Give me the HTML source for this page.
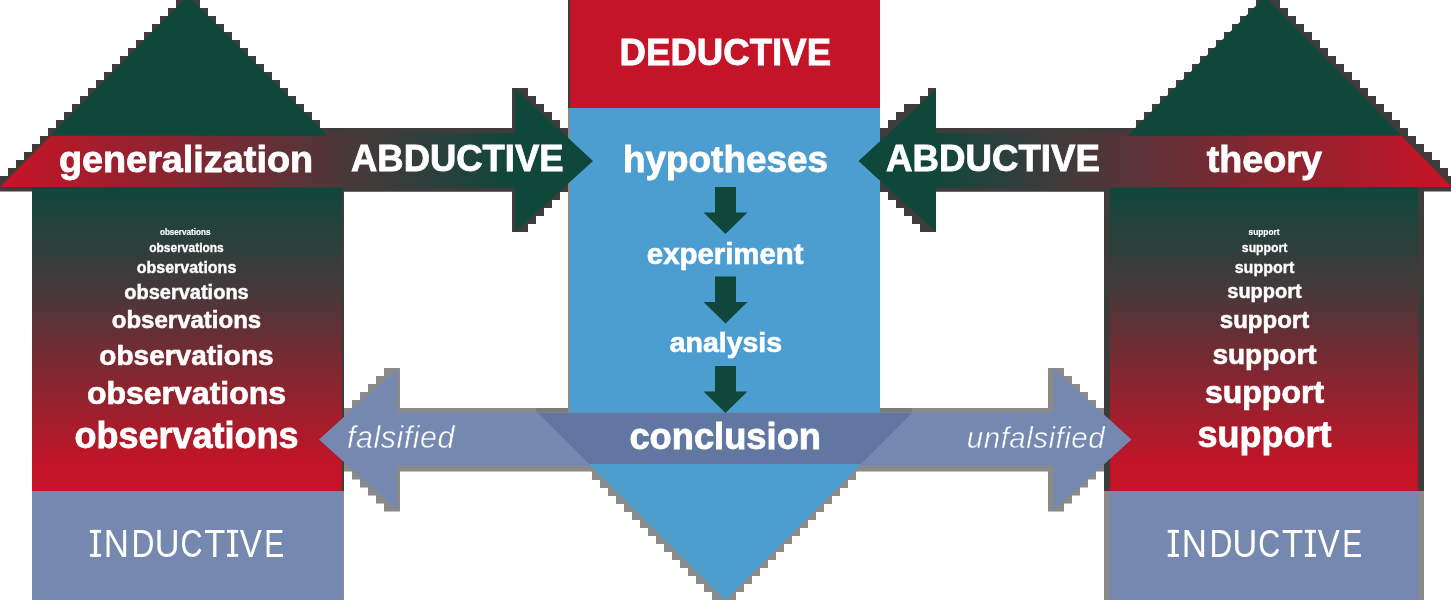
<!DOCTYPE html>
<html><head><meta charset="utf-8"><style>
html,body{margin:0;padding:0;background:#fff;width:1451px;height:600px;overflow:hidden}
svg{display:block;will-change:transform}
text{font-family:"Liberation Sans",sans-serif;fill:#fff}
</style></head><body>
<svg width="1451" height="600" viewBox="0 0 1451 600">
<defs><linearGradient id="colL" x1="0" y1="187" x2="0" y2="491" gradientUnits="userSpaceOnUse"><stop offset="0" stop-color="#0f473b"/><stop offset="0.3" stop-color="#3e3b3b"/><stop offset="0.92" stop-color="#c41427"/></linearGradient><linearGradient id="bandL" x1="10" y1="0" x2="515" y2="0" gradientUnits="userSpaceOnUse"><stop offset="0" stop-color="#c41427"/><stop offset="0.73" stop-color="#3e3b3b"/><stop offset="1" stop-color="#0f473b"/></linearGradient><linearGradient id="bandR" x1="1441" y1="0" x2="930" y2="0" gradientUnits="userSpaceOnUse"><stop offset="0" stop-color="#c41427"/><stop offset="0.76" stop-color="#3e3b3b"/><stop offset="1" stop-color="#0f473b"/></linearGradient></defs>
<polygon points="200,0 200,8 208,8 208,16 216,16 216,24 224,24 224,32 232,32 232,40 240,40 240,48 248,48 248,56 256,56 256,64 264,64 264,72 272,72 272,80 280,80 280,88 288,88 288,96 296,96 296,104 304,104 304,112 312,112 312,120 320,120 320,128 320,191.5 0,191.5 0,184 0,176 8,176 8,168 16,168 16,160 24,160 24,152 32,152 32,144 40,144 40,136 48,136 48,128 56,128 56,120 64,120 64,112 72,112 72,104 80,104 80,96 88,96 88,88 96,88 96,80 104,80 104,72 112,72 112,64 120,64 120,56 128,56 128,48 136,48 136,40 144,40 144,32 152,32 152,24 160,24 160,16 168,16 168,8 176,8 176,0" fill="#3e3b3b" />
<polygon points="1280,0 1280,8 1288,8 1288,16 1296,16 1296,24 1304,24 1304,32 1312,32 1312,40 1320,40 1320,48 1328,48 1328,56 1336,56 1336,64 1344,64 1344,72 1352,72 1352,80 1360,80 1360,88 1368,88 1368,96 1376,96 1376,104 1384,104 1384,112 1392,112 1392,120 1400,120 1400,128 1408,128 1408,136 1416,136 1416,144 1424,144 1424,152 1432,152 1432,160 1440,160 1440,168 1448,168 1448,176 1456,176 1456,184 1456,191.5 1136,191.5 1136,128 1136,120 1144,120 1144,112 1152,112 1152,104 1160,104 1160,96 1168,96 1168,88 1176,88 1176,80 1184,80 1184,72 1192,72 1192,64 1200,64 1200,56 1208,56 1208,48 1216,48 1216,40 1224,40 1224,32 1232,32 1232,24 1240,24 1240,16 1248,16 1248,8 1256,8 1256,0" fill="#3e3b3b" />
<polygon points="320,128 512,128 512,88 528,88 528,96 536,96 536,104 544,104 544,112 552,112 552,120 560,120 560,128 568,128 568,136 576,136 576,144 584,144 584,152 592,152 592,160 600,160 600,168 600,152 600,160 592,160 592,168 584,168 584,176 576,176 576,184 568,184 568,192 560,192 560,200 552,200 552,208 544,208 544,216 536,216 536,224 528,224 528,232 512,232 512,191.8 320,191.8" fill="#3e3b3b" />
<polygon points="1136,128 936,128 936,88 928,88 928,96 920,96 920,104 904,104 904,112 896,112 896,120 888,120 888,128 880,128 880,136 872,136 872,144 864,144 864,152 856,152 856,160 848,160 848,168 848,152 848,160 856,160 856,168 864,168 864,176 872,176 872,184 880,184 880,192 888,192 888,200 896,200 896,208 904,208 904,216 912,216 912,224 920,224 920,232 936,232 936,191.8 1136,191.8" fill="#3e3b3b" />
<polygon points="725,408 400,408 400,368 384,368 384,376 376,376 376,384 368,384 368,392 360,392 360,400 352,400 352,408 344,408 344,416 344,471.5 344,463.5 344,471.5 352,471.5 352,479.5 360,479.5 360,487.5 368,487.5 368,495.5 376,495.5 376,503.5 384,503.5 384,511.5 400,511.5 400,471.5 725,471.5" fill="#8a8a8a" />
<polygon points="723,408 1048,408 1048,368 1064,368 1064,376 1072,376 1072,384 1080,384 1080,392 1088,392 1088,400 1096,400 1096,408 1104,408 1104,416 1104,471.5 1104,463.5 1104,471.5 1096,471.5 1096,479.5 1088,479.5 1088,487.5 1080,487.5 1080,495.5 1072,495.5 1072,503.5 1064,503.5 1064,511.5 1048,511.5 1048,471.5 723,471.5" fill="#8a8a8a" />
<polygon points="584,464 864,464 856,472 856,480 848,480 848,488 840,488 840,496 832,496 832,504 824,504 824,512 816,512 816,520 808,520 808,528 800,528 800,536 792,536 792,544 784,544 784,552 776,552 776,560 768,560 768,568 760,568 760,576 752,576 752,584 744,584 744,592 736,592 736,600 712,600 712,592 704,592 704,584 696,584 696,576 688,576 688,568 680,568 680,560 672,560 672,552 664,552 664,544 656,544 656,536 648,536 648,528 640,528 640,520 632,520 632,512 624,512 624,504 616,504 616,496 608,496 608,488 600,488 600,480 592,480 592,472" fill="#8a8a8a" />
<rect x="32" y="187" width="312" height="304" fill="#3e3b3b" />
<rect x="32" y="187" width="310" height="304" fill="url(#colL)" />
<rect x="32" y="491" width="312" height="109" fill="#8a8a8a" />
<rect x="32" y="491" width="311" height="109" fill="#7588b0" />
<rect x="1104" y="187" width="320" height="304" fill="#3e3b3b" />
<rect x="1110" y="187" width="308" height="304" fill="url(#colL)" />
<rect x="1104" y="491" width="320" height="109" fill="#8a8a8a" />
<rect x="1110" y="491" width="308" height="109" fill="#7588b0" />
<rect x="568" y="0" width="312" height="108" fill="#3e3b3b" />
<rect x="570" y="0" width="310" height="108" fill="#c41427" />
<rect x="568" y="108" width="312" height="305" fill="#8a8a8a" />
<rect x="570" y="108" width="310" height="305" fill="#4c9dd0" />
<polygon points="300,133 515,133 515,88.5 593,161 515,232 515,187.5 300,187.5" fill="url(#bandL)" />
<polygon points="1152,133 936,133 936,89.5 858.5,161 936,232 936,187.5 1152,187.5" fill="url(#bandR)" />
<polygon points="188,-4 379,187 0,187" fill="#0f473b" />
<polygon points="1265,-3.5 1452,187 1077,187" fill="#0f473b" />
<polygon points="50.5,135.7 520,135.7 520,187 0,187" fill="url(#bandL)" />
<polygon points="932,135.7 1401.6,135.7 1452,187 932,187" fill="url(#bandR)" />
<polygon points="319,439.5 397,369 397,412.5 725,412.5 725,465.7 397,465.7 397,510" fill="#7588b0" />
<polygon points="1131.5,439.5 1053.5,369 1053.5,412.5 725,412.5 725,465.7 1053.5,465.7 1053.5,510" fill="#7588b0" />
<polygon points="589,464 861,464 725,600" fill="#4c9dd0" />
<polygon points="538,413 912,413 861,464 589,464" fill="#6177a2" />
<rect x="536" y="408" width="32" height="4.5" fill="#7c7c7c" />
<rect x="880" y="408" width="32" height="4.5" fill="#7c7c7c" />
<polygon points="715,187 736,187 736,212.5 747.5,212.5 725.5,234 703.5,212.5 715,212.5" fill="#0f473b" />
<polygon points="715,276.5 736,276.5 736,302 747.5,302 725.5,323.5 703.5,302 715,302" fill="#0f473b" />
<polygon points="715,366 736,366 736,391.5 747.5,391.5 725.5,413 703.5,391.5 715,391.5" fill="#0f473b" />
<text x="186" y="172" font-size="37.8" font-weight="bold" font-style="normal" text-anchor="middle"  stroke="#fff" stroke-width="0.82">generalization</text>
<text x="457.3" y="171" font-size="37" font-weight="bold" font-style="normal" text-anchor="middle" textLength="212.5" lengthAdjust="spacingAndGlyphs"  stroke="#fff" stroke-width="0.80">ABDUCTIVE</text>
<text x="725.3" y="65" font-size="37.5" font-weight="bold" font-style="normal" text-anchor="middle" textLength="211.5" lengthAdjust="spacingAndGlyphs"  stroke="#fff" stroke-width="0.81">DEDUCTIVE</text>
<text x="725.5" y="171.6" font-size="36.9" font-weight="bold" font-style="normal" text-anchor="middle"  stroke="#fff" stroke-width="0.80">hypotheses</text>
<text x="993" y="171" font-size="37" font-weight="bold" font-style="normal" text-anchor="middle" textLength="214" lengthAdjust="spacingAndGlyphs"  stroke="#fff" stroke-width="0.80">ABDUCTIVE</text>
<text x="1264.3" y="172" font-size="37.7" font-weight="bold" font-style="normal" text-anchor="middle"  stroke="#fff" stroke-width="0.82">theory</text>
<text x="725.2" y="263.6" font-size="29.4" font-weight="bold" font-style="normal" text-anchor="middle"  stroke="#fff" stroke-width="0.64">experiment</text>
<text x="725.9" y="352" font-size="28.5" font-weight="bold" font-style="normal" text-anchor="middle"  stroke="#fff" stroke-width="0.62">analysis</text>
<text x="725.2" y="448.7" font-size="36.3" font-weight="bold" font-style="normal" text-anchor="middle"  stroke="#fff" stroke-width="0.78">conclusion</text>
<text x="401" y="448" font-size="30.5" font-weight="normal" font-style="italic" text-anchor="middle" stroke="#7588b0" stroke-width="0.5" letter-spacing="0.5">falsified</text>
<text x="1036" y="447.5" font-size="29.5" font-weight="normal" font-style="italic" text-anchor="middle" stroke="#7588b0" stroke-width="0.5" letter-spacing="0.5">unfalsified</text>
<rect x="93.85" y="529.9" width="3.3" height="26.9" fill="#ffffff" />
<rect x="89.9" y="529.9" width="11.2" height="2.9" fill="#ffffff" />
<rect x="89.9" y="553.9" width="11.2" height="2.9" fill="#ffffff" />
<text transform="translate(103.84,556.8) scale(0.890,1)" font-size="39.2" font-weight="normal">N</text>
<text transform="translate(131.60,556.8) scale(0.810,1)" font-size="39.2" font-weight="normal">D</text>
<text transform="translate(154.76,556.8) scale(0.876,1)" font-size="39.2" font-weight="normal">U</text>
<text transform="translate(180.45,556.8) scale(0.778,1)" font-size="39.2" font-weight="normal">C</text>
<text transform="translate(204.14,556.8) scale(0.879,1)" font-size="39.2" font-weight="normal">T</text>
<rect x="230.95" y="529.9" width="3.3" height="26.9" fill="#ffffff" />
<rect x="227" y="529.9" width="11.2" height="2.9" fill="#ffffff" />
<rect x="227" y="553.9" width="11.2" height="2.9" fill="#ffffff" />
<text transform="translate(239.83,556.8) scale(0.843,1)" font-size="39.2" font-weight="normal">V</text>
<text transform="translate(264.35,556.8) scale(0.762,1)" font-size="39.2" font-weight="normal">E</text>
<rect x="1171.7" y="529.9" width="3.3" height="26.9" fill="#ffffff" />
<rect x="1167.75" y="529.9" width="11.2" height="2.9" fill="#ffffff" />
<rect x="1167.75" y="553.9" width="11.2" height="2.9" fill="#ffffff" />
<text transform="translate(1181.69,556.8) scale(0.890,1)" font-size="39.2" font-weight="normal">N</text>
<text transform="translate(1209.45,556.8) scale(0.810,1)" font-size="39.2" font-weight="normal">D</text>
<text transform="translate(1232.61,556.8) scale(0.876,1)" font-size="39.2" font-weight="normal">U</text>
<text transform="translate(1258.30,556.8) scale(0.778,1)" font-size="39.2" font-weight="normal">C</text>
<text transform="translate(1281.99,556.8) scale(0.879,1)" font-size="39.2" font-weight="normal">T</text>
<rect x="1308.8" y="529.9" width="3.3" height="26.9" fill="#ffffff" />
<rect x="1304.85" y="529.9" width="11.2" height="2.9" fill="#ffffff" />
<rect x="1304.85" y="553.9" width="11.2" height="2.9" fill="#ffffff" />
<text transform="translate(1317.68,556.8) scale(0.843,1)" font-size="39.2" font-weight="normal">V</text>
<text transform="translate(1342.20,556.8) scale(0.762,1)" font-size="39.2" font-weight="normal">E</text>
<text x="185.2" y="235" font-size="9.6" font-weight="bold" font-style="normal" text-anchor="middle" textLength="50.5" lengthAdjust="spacingAndGlyphs"  stroke="#fff" stroke-width="0.21">observations</text>
<text x="1264" y="235" font-size="9.6" font-weight="bold" font-style="normal" text-anchor="middle" textLength="31" lengthAdjust="spacingAndGlyphs"  stroke="#fff" stroke-width="0.21">support</text>
<text x="186.5" y="251.6" font-size="13" font-weight="bold" font-style="normal" text-anchor="middle" textLength="74.5" lengthAdjust="spacingAndGlyphs"  stroke="#fff" stroke-width="0.28">observations</text>
<text x="1264.6" y="251.8" font-size="13" font-weight="bold" font-style="normal" text-anchor="middle" textLength="45.5" lengthAdjust="spacingAndGlyphs"  stroke="#fff" stroke-width="0.28">support</text>
<text x="186.5" y="272.8" font-size="16" font-weight="bold" font-style="normal" text-anchor="middle"  stroke="#fff" stroke-width="0.35">observations</text>
<text x="1264.5" y="272.5" font-size="16" font-weight="bold" font-style="normal" text-anchor="middle"  stroke="#fff" stroke-width="0.35">support</text>
<text x="186.5" y="298.5" font-size="20" font-weight="bold" font-style="normal" text-anchor="middle"  stroke="#fff" stroke-width="0.43">observations</text>
<text x="1264.5" y="298" font-size="20" font-weight="bold" font-style="normal" text-anchor="middle"  stroke="#fff" stroke-width="0.43">support</text>
<text x="186.5" y="328.3" font-size="24" font-weight="bold" font-style="normal" text-anchor="middle"  stroke="#fff" stroke-width="0.52">observations</text>
<text x="1264.5" y="328.3" font-size="24" font-weight="bold" font-style="normal" text-anchor="middle"  stroke="#fff" stroke-width="0.52">support</text>
<text x="186.5" y="364.5" font-size="28" font-weight="bold" font-style="normal" text-anchor="middle"  stroke="#fff" stroke-width="0.61">observations</text>
<text x="1264.5" y="363.7" font-size="28" font-weight="bold" font-style="normal" text-anchor="middle"  stroke="#fff" stroke-width="0.61">support</text>
<text x="186.5" y="404.2" font-size="32" font-weight="bold" font-style="normal" text-anchor="middle"  stroke="#fff" stroke-width="0.69">observations</text>
<text x="1264.5" y="403.4" font-size="32" font-weight="bold" font-style="normal" text-anchor="middle"  stroke="#fff" stroke-width="0.69">support</text>
<text x="186.5" y="448.3" font-size="36" font-weight="bold" font-style="normal" text-anchor="middle"  stroke="#fff" stroke-width="0.78">observations</text>
<text x="1264.5" y="447.3" font-size="36" font-weight="bold" font-style="normal" text-anchor="middle"  stroke="#fff" stroke-width="0.78">support</text>
</svg>
</body></html>
